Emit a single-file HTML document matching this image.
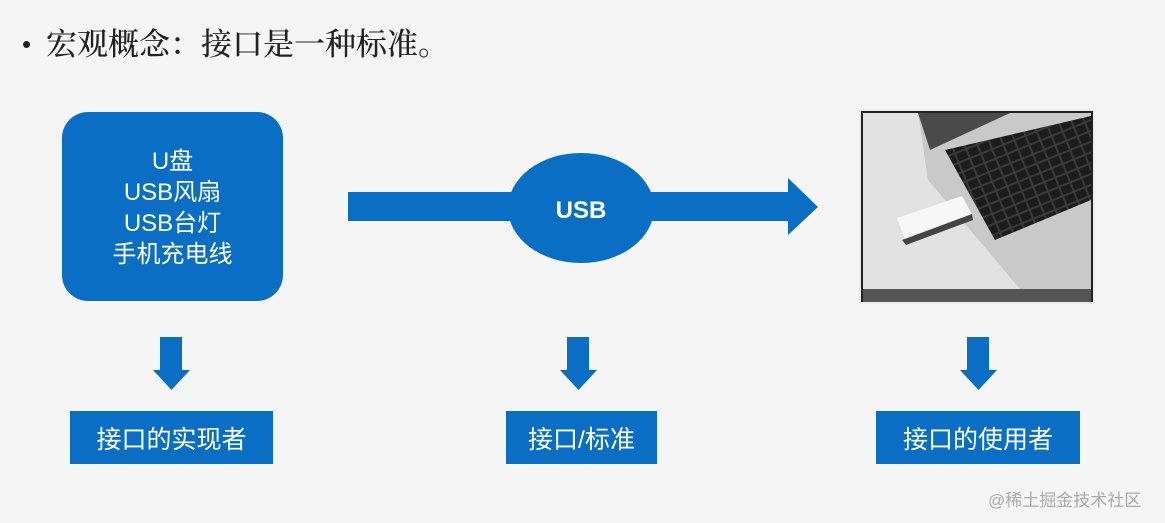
<!DOCTYPE html>
<html><head><meta charset="utf-8"><style>
body{margin:0;width:1165px;height:523px;background:#f5f5f5;position:relative;overflow:hidden;font-family:"Liberation Sans","Noto Sans CJK SC",sans-serif}
.a{position:absolute}
.blue{background:#0a6fc4;color:#fff}
.lbl{display:flex;align-items:center;justify-content:center;font-size:25px}
</style></head><body>
<div class="a" style="left:22px;top:29px;font-size:26px;color:#222">•</div>
<div class="a" style="left:46px;top:19px;font-family:'Liberation Serif','Noto Serif CJK SC',serif;font-size:31px;font-weight:500;color:#222;white-space:nowrap">宏观概念：接口是一种标准。</div>
<div class="a blue" style="left:62px;top:112px;width:221px;height:189px;border-radius:26px;display:flex;flex-direction:column;align-items:center;justify-content:center;font-size:24px;line-height:31px;padding-top:2px;box-sizing:border-box">
<div>U盘</div><div>USB风扇</div><div>USB台灯</div><div>手机充电线</div></div>
<svg class="a" style="left:0;top:0" width="1165" height="523">
<g fill="#0a6fc4">
<rect x="348" y="192" width="442" height="29"/>
<polygon points="788,178 818,207 788,235"/>
<ellipse cx="581" cy="208" rx="73" ry="55"/>
<rect x="160" y="337" width="22" height="34"/><polygon points="153,370 190,370 171.5,390"/>
<rect x="567" y="337" width="22" height="34"/><polygon points="560,370 597,370 578.5,390"/>
<rect x="967" y="337" width="22" height="34"/><polygon points="960,370 997,370 978.5,390"/>
</g>
<text x="581" y="218" fill="#fff" font-size="24" font-weight="bold" text-anchor="middle" font-family="Liberation Sans">USB</text>
<defs><pattern id="k" width="12" height="10" patternUnits="userSpaceOnUse" patternTransform="rotate(-22)"><rect width="12" height="10" fill="#3a3a3a"/><rect x="1" y="1" width="10" height="8" fill="#1c1c1c"/></pattern></defs>
<g>
<rect x="859" y="109" width="236" height="195" fill="#ececec"/>
<rect x="861" y="111" width="232" height="191" fill="#222"/>
<rect x="863" y="113" width="228" height="176" fill="#e2e2e2"/>
<polygon points="918,113 1091,113 1091,289 1020,289 928,180" fill="#c9c9c9"/>
<polygon points="918,113 1010,113 930,150" fill="#4a4a4a"/>
<polygon points="945,150 1091,116 1091,200 995,240" fill="url(#k)"/>
<polygon points="897,218 962,196 972,214 906,242" fill="#f7f7f7"/>
<polygon points="902,240 972,214 973,220 906,245" fill="#444"/>
<rect x="863" y="289" width="228" height="13" fill="#555"/>
</g>
</svg>
<div class="a blue lbl" style="left:70px;top:411px;width:203px;height:53px">接口的实现者</div>
<div class="a blue lbl" style="left:506px;top:411px;width:151px;height:53px">接口/标准</div>
<div class="a blue lbl" style="left:876px;top:411px;width:204px;height:53px">接口的使用者</div>
<div class="a" style="left:988px;top:486px;font-size:17px;color:#aaa">@稀土掘金技术社区</div>
</body></html>
